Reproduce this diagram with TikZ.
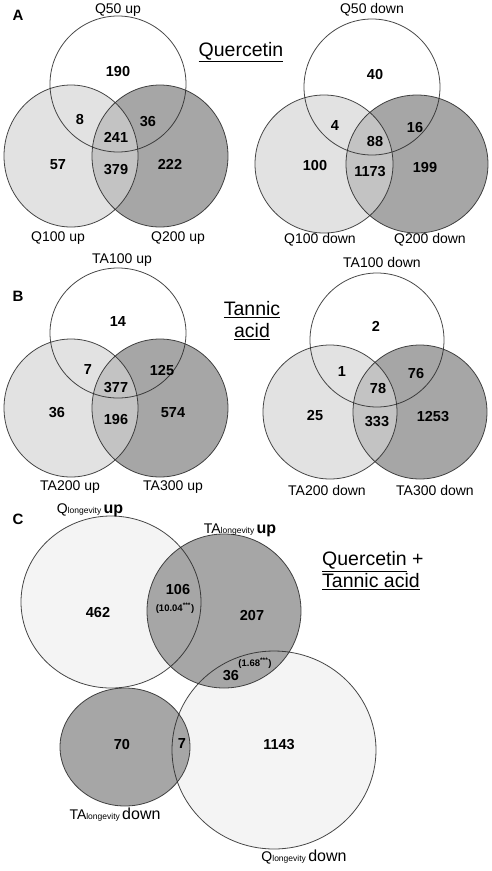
\documentclass[tikz,border=0pt]{standalone}
\usepackage{fontspec}
\setmainfont{Liberation Sans}
\usetikzlibrary{positioning}

\begin{document}
\begin{tikzpicture}[x=1pt, y=-1pt]

\definecolor{paleFill}{RGB}{244, 244, 244}
\definecolor{lightFill}{RGB}{226, 226, 226}
\definecolor{midFill}{RGB}{195, 195, 195}
\definecolor{darkFill}{RGB}{166, 166, 166}
\definecolor{ringColor}{RGB}{40, 40, 40}

\tikzset{
    ring/.style = {draw=ringColor, draw opacity=0.85, line width=0.8pt},
    count/.style = {font=\fontsize{14.5}{16}\selectfont\bfseries, inner sep=0pt},
    ratio/.style = {font=\fontsize{9.5}{11}\selectfont\bfseries, inner sep=0pt},
    setname/.style = {font=\fontsize{14}{16}\selectfont, inner sep=0pt},
    panel/.style = {font=\fontsize{15}{17}\selectfont\bfseries, inner sep=0pt},
    heading/.style = {font=\fontsize{19.5}{24}\selectfont, inner sep=0pt}
}

\useasboundingbox (0,0) rectangle (491,871);

% =========== PANEL A : Quercetin ===========
\node[panel] (panelA) at (18, 15) {A};
\node[heading] (titleA) at (241, 52) {\underline{Quercetin}};

% up
\coordinate (qup50) at (118, 84);
\coordinate (qup100) at (71, 156);
\coordinate (qup200) at (160, 156);
\fill[lightFill] (qup100) ellipse [x radius=67pt, y radius=71pt];
\fill[darkFill] (qup200) ellipse [x radius=68pt, y radius=71pt];
\begin{scope}
    \clip (qup100) ellipse [x radius=67pt, y radius=71pt];
    \fill[midFill] (qup200) ellipse [x radius=68pt, y radius=71pt];
\end{scope}
\draw[ring] (qup50) circle [radius=68pt];
\draw[ring] (qup100) ellipse [x radius=67pt, y radius=71pt];
\draw[ring] (qup200) ellipse [x radius=68pt, y radius=71pt];

\node[setname] (qup50name) at (118, 10) {Q50 up};
\node[setname] (qup100name) at (58, 238) {Q100 up};
\node[setname] (qup200name) at (178, 238) {Q200 up};
\node[count] (qupA) at (118, 72) {190};
\node[count] (qupAB) at (80, 120) {8};
\node[count] (qupAC) at (148, 122) {36};
\node[count] (qupABC) at (116, 137) {241};
\node[count] (qupB) at (58, 165) {57};
\node[count] (qupBC) at (116, 170) {379};
\node[count] (qupC) at (170, 164) {222};

% down
\coordinate (qdn50) at (372, 87);
\coordinate (qdn100) at (324, 164);
\coordinate (qdn200) at (417, 164);
\fill[lightFill] (qdn100) circle [radius=69pt];
\fill[darkFill] (qdn200) ellipse [x radius=71pt, y radius=69pt];
\begin{scope}
    \clip (qdn100) circle [radius=69pt];
    \fill[midFill] (qdn200) ellipse [x radius=71pt, y radius=69pt];
\end{scope}
\draw[ring] (qdn50) circle [radius=68pt];
\draw[ring] (qdn100) circle [radius=69pt];
\draw[ring] (qdn200) ellipse [x radius=71pt, y radius=69pt];

\node[setname] (qdn50name) at (372, 10) {Q50 down};
\node[setname] (qdn100name) at (320, 240) {Q100 down};
\node[setname] (qdn200name) at (430, 240) {Q200 down};
\node[count] (qdnA) at (375, 75) {40};
\node[count] (qdnAB) at (335, 126) {4};
\node[count] (qdnAC) at (415, 128) {16};
\node[count] (qdnABC) at (375, 142) {88};
\node[count] (qdnB) at (315, 166) {100};
\node[count] (qdnBC) at (370, 172) {1173};
\node[count] (qdnC) at (425, 168) {199};

% =========== PANEL B : Tannic acid ===========
\node[panel] (panelB) at (18, 296) {B};
\node[heading, align=center] (titleB) at (252, 321) {\underline{Tannic}\\[-2pt]\underline{acid}};

% up
\coordinate (taup100) at (118, 333);
\coordinate (taup200) at (71, 408);
\coordinate (taup300) at (160, 408);
\fill[lightFill] (taup200) ellipse [x radius=67pt, y radius=69pt];
\fill[darkFill] (taup300) ellipse [x radius=68pt, y radius=69pt];
\begin{scope}
    \clip (taup200) ellipse [x radius=67pt, y radius=69pt];
    \fill[midFill] (taup300) ellipse [x radius=68pt, y radius=69pt];
\end{scope}
\draw[ring] (taup100) ellipse [x radius=68pt, y radius=65pt];
\draw[ring] (taup200) ellipse [x radius=67pt, y radius=69pt];
\draw[ring] (taup300) ellipse [x radius=68pt, y radius=69pt];

\node[setname] (taup100name) at (122, 260) {TA100 up};
\node[setname] (taup200name) at (70, 487) {TA200 up};
\node[setname] (taup300name) at (173, 487) {TA300 up};
\node[count] (taupA) at (118, 322) {14};
\node[count] (taupAB) at (88, 370) {7};
\node[count] (taupAC) at (162, 371) {125};
\node[count] (taupABC) at (116, 388) {377};
\node[count] (taupB) at (57, 413) {36};
\node[count] (taupBC) at (116, 420) {196};
\node[count] (taupC) at (173, 413) {574};

% down
\coordinate (tadn100) at (377, 340);
\coordinate (tadn200) at (330, 412);
\coordinate (tadn300) at (420, 412);
\fill[lightFill] (tadn200) circle [radius=67pt];
\fill[darkFill] (tadn300) circle [radius=67pt];
\begin{scope}
    \clip (tadn200) circle [radius=67pt];
    \fill[midFill] (tadn300) circle [radius=67pt];
\end{scope}
\draw[ring] (tadn100) circle [radius=67pt];
\draw[ring] (tadn200) circle [radius=67pt];
\draw[ring] (tadn300) circle [radius=67pt];

\node[setname] (tadn100name) at (382, 262) {TA100 down};
\node[setname] (tadn200name) at (327, 490) {TA200 down};
\node[setname] (tadn300name) at (435, 490) {TA300 down};
\node[count] (tadnA) at (376, 326) {2};
\node[count] (tadnAB) at (342, 372) {1};
\node[count] (tadnAC) at (416, 374) {76};
\node[count] (tadnABC) at (378, 389) {78};
\node[count] (tadnB) at (315, 416) {25};
\node[count] (tadnBC) at (377, 422) {333};
\node[count] (tadnC) at (433, 417) {1253};

% =========== PANEL C : Quercetin + Tannic acid ===========
\node[panel] (panelC) at (18, 519) {C};
\node[heading, align=left, anchor=west] (titleC) at (322, 571)
    {\underline{Quercetin} +\\[-2pt]\underline{Tannic acid}};

\coordinate (qlongup) at (111, 602);
\coordinate (talongup) at (224, 611);
\coordinate (qlongdn) at (274, 750);
\coordinate (talongdn) at (125, 747);
\fill[paleFill] (qlongup) ellipse [x radius=90pt, y radius=86pt];
\fill[paleFill] (qlongdn) ellipse [x radius=102pt, y radius=99pt];
\fill[darkFill] (talongup) circle [radius=77pt];
\fill[darkFill] (talongdn) ellipse [x radius=65pt, y radius=59pt];
\draw[ring] (qlongup) ellipse [x radius=90pt, y radius=86pt];
\draw[ring] (qlongdn) ellipse [x radius=102pt, y radius=99pt];
\draw[ring] (talongup) circle [radius=77pt];
\draw[ring] (talongdn) ellipse [x radius=65pt, y radius=59pt];

\node[setname] (qlongupname) at (90, 510)
    {Q{\fontsize{8.5}{10}\selectfont longevity}\,{\fontsize{16}{18}\selectfont\bfseries up}};
\node[setname] (talongupname) at (240, 530)
    {TA{\fontsize{8.5}{10}\selectfont longevity}\,{\fontsize{16}{18}\selectfont\bfseries up}};
\node[setname] (talongdnname) at (115, 815)
    {TA{\fontsize{8.5}{10}\selectfont longevity}\,{\fontsize{16}{18}\selectfont down}};
\node[setname] (qlongdnname) at (304, 857)
    {Q{\fontsize{8.5}{10}\selectfont longevity}\,{\fontsize{16}{18}\selectfont down}};

\node[count] (cntQup) at (98, 612) {462};
\node[count] (cntUpUp) at (178, 589) {106};
\node[ratio] (ratioUpUp) at (175, 608) {(10.04\textsuperscript{***})};
\node[count] (cntTAup) at (252, 615) {207};
\node[ratio] (ratioUpDn) at (255, 663) {(1.68\textsuperscript{***})};
\node[count] (cntUpDn) at (231, 676) {36};
\node[count] (cntTAdn) at (122, 744) {70};
\node[count] (cntDnDn) at (182, 744) {7};
\node[count] (cntQdn) at (279, 745) {1143};

\end{tikzpicture}
\end{document}
